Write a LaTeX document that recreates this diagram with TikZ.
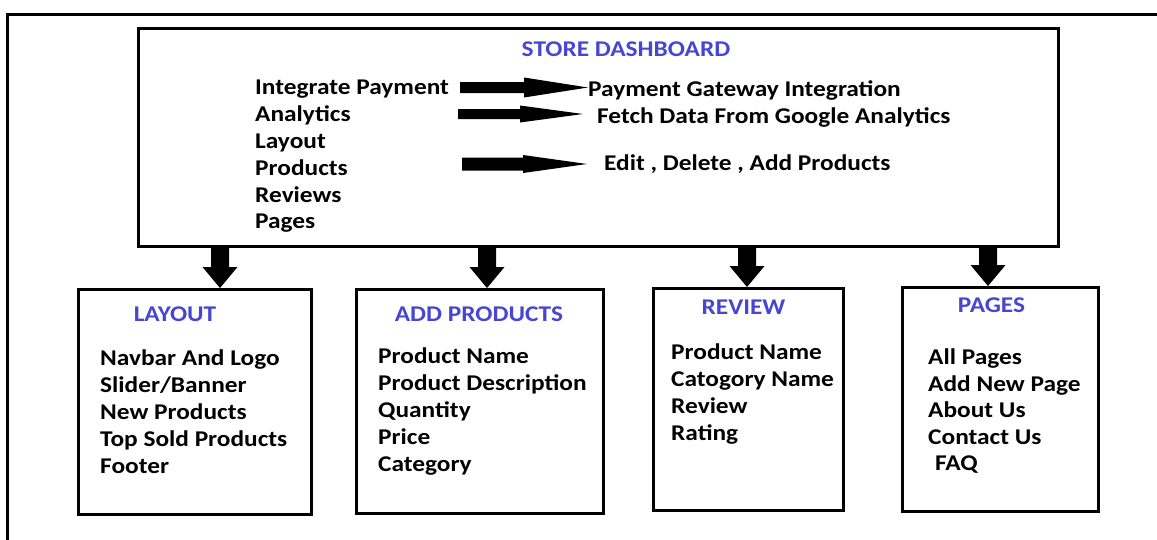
\documentclass[tikz,border=0pt]{standalone}
\usepackage{fontspec}
\setmainfont{Carlito}
\usetikzlibrary{calc}
\definecolor{ttl}{RGB}{70,70,210}
\newcommand{\W}[1]{\scalebox{1.127}[1]{#1}}
\newcommand{\hblock}[5]{% start, tip, headlen, shafthalf, headhalf
  \fill (#1)++(0,-#4) -- ($(#2)+(-#3,-#4)$) -- ($(#2)+(-#3,-#5)$) -- (#2) -- ($(#2)+(-#3,#5)$) -- ($(#2)+(-#3,#4)$) -- ($(#1)+(0,#4)$) -- cycle;}
\newcommand{\vblock}[2]{% start, tip
  \fill ($(#1)+(-9,0)$) -- ($(#2)+(-9,-21)$) -- ($(#2)+(-17.5,-21)$) -- (#2) -- ($(#2)+(17.5,-21)$) -- ($(#2)+(9,-21)$) -- ($(#1)+(9,0)$) -- cycle;}
\begin{document}
\begin{tikzpicture}[x=1pt,y=-1pt,
  txt/.style={inner sep=0pt,anchor=base west,font=\fontsize{22.5}{27}\selectfont\bfseries},
  ttlt/.style={inner sep=0pt,anchor=base,text=ttl,font=\fontsize{22.5}{27}\selectfont\bfseries},
  boxn/.style={draw,line width=3pt,inner sep=0pt,anchor=north west}]
\useasboundingbox (0,0) rectangle (1157,539);
\clip (0,0) rectangle (1157,539);
\draw[line width=3pt] (7,560) -- (7,14) -- (1180,14);
% main box
\node[boxn,minimum width=920pt,minimum height=218pt] (main) at (137,27) {};
\node[ttlt] (mt) at (626,56) {\W{STORE DASHBOARD}};
\node[txt] (m1) at (255,94) {\W{Integrate Payment}};
\node[txt] (m2) at (255,121) {\W{Analytics}};
\node[txt] (m3) at (255,148) {\W{Layout}};
\node[txt] (m4) at (255,175) {\W{Products}};
\node[txt] (m5) at (255,202) {\W{Reviews}};
\node[txt] (m6) at (255,228) {\W{Pages}};
\node[txt] (r1) at (588,96) {\W{Payment Gateway Integration}};
\node[txt] (r2) at (597,123) {\W{Fetch Data From Google Analytics}};
\node[txt] (r3) at (604,170) {\W{Edit , Delete , Add Products}};
\coordinate (h1s) at (460,87.5); \coordinate (h1t) at (r1.west |- 0,87.5);
\coordinate (h2s) at (458,114); \coordinate (h2t) at (583,114);
\coordinate (h3s) at (462,164); \coordinate (h3t) at (587,164);
\hblock{h1s}{h1t}{64}{5.5}{10}
\hblock{h2s}{h2t}{63}{5}{8.5}
\hblock{h3s}{h3t}{64}{6.5}{9}
% child boxes
\node[boxn,minimum width=233pt,minimum height=225pt] (lay) at (77,288) {};
\node[boxn,minimum width=247pt,minimum height=224pt] (add) at (355,288) {};
\node[boxn,minimum width=190pt,minimum height=222pt] (rev) at (652,287) {};
\node[boxn,minimum width=196pt,minimum height=224pt] (pag) at (901,286) {};
% down arrows
\coordinate (x1) at (220,0); \coordinate (x2) at (487,0);
\coordinate (x3) at (747,0); \coordinate (x4) at (988,0);
\vblock{main.south -| x1}{lay.north -| x1}
\vblock{main.south -| x2}{add.north -| x2}
\vblock{main.south -| x3}{rev.north -| x3}
\vblock{main.south -| x4}{pag.north -| x4}
% layout
\node[ttlt] (lt) at (175,321) {\W{LAYOUT}};
\node[txt] (l1) at (100,365) {\W{Navbar And Logo}};
\node[txt] (l2) at (100,392) {\W{Slider/Banner}};
\node[txt] (l3) at (100,419) {\W{New Products}};
\node[txt] (l4) at (100,446) {\W{Top Sold Products}};
\node[txt] (l5) at (100,473) {\W{Footer}};
% add products
\node[ttlt] (at) at (479,321) {\W{ADD PRODUCTS}};
\node[txt] (a1) at (378,363) {\W{Product Name}};
\node[txt] (a2) at (378,390) {\W{Product Description}};
\node[txt] (a3) at (378,417) {\W{Quantity}};
\node[txt] (a4) at (378,444) {\W{Price}};
\node[txt] (a5) at (378,471) {\W{Category}};
% review
\node[ttlt] (rt) at (743.5,314) {\W{REVIEW}};
\node[txt] (v1) at (671,359) {\W{Product Name}};
\node[txt] (v2) at (671,386) {\W{Catogory Name}};
\node[txt] (v3) at (671,413) {\W{Review}};
\node[txt] (v4) at (671,440) {\W{Rating}};
% pages
\node[ttlt] (pt) at (991.5,312) {\W{PAGES}};
\node[txt] (p1) at (928,364) {\W{All Pages}};
\node[txt] (p2) at (928,391) {\W{Add New Page}};
\node[txt] (p3) at (928,417) {\W{About Us}};
\node[txt] (p4) at (928,444) {\W{Contact Us}};
\node[txt] (p5) at (935,470) {\W{FAQ}};
\end{tikzpicture}
\end{document}
